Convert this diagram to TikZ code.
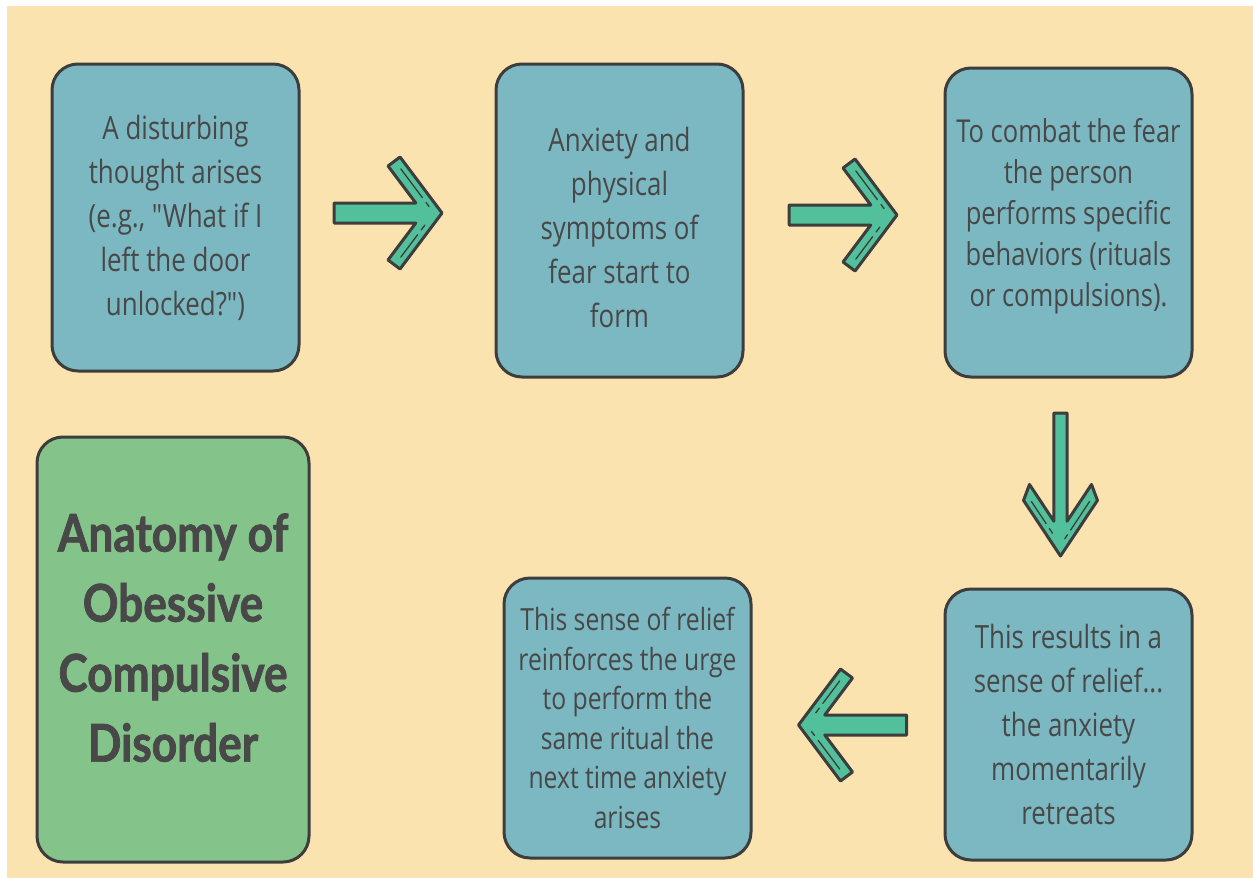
\documentclass[tikz,border=0pt]{standalone}
\usepackage{fontspec}
\newfontfamily\bodyfont[FakeStretch=0.81]{Open Sans}
\newfontfamily\titlefont[FakeStretch=0.85,FakeBold=1.4]{Lato}
\usetikzlibrary{calc}

\definecolor{paper}{HTML}{FBE3B0}
\definecolor{stepfill}{HTML}{7BB8C2}
\definecolor{titlefill}{HTML}{84C48A}
\definecolor{arrowfill}{HTML}{52C09A}
\definecolor{outline}{HTML}{3D3D3D}
\definecolor{ink}{HTML}{484848}

\tikzset{
  stepbox/.style={draw=outline, line width=3pt, fill=stepfill,
    rounded corners=26pt, minimum width=247pt, inner sep=0pt,
    align=center, text=ink, font=\bodyfont\fontsize{32}{44}\selectfont},
  titlebox/.style={draw=outline, line width=3pt, fill=titlefill,
    rounded corners=26pt, minimum width=272pt, minimum height=425pt,
    inner sep=0pt, align=center, text=ink,
    font=\titlefont\bfseries\fontsize{52}{70}\selectfont},
  arrowbody/.style={draw=outline, line width=3pt, fill=arrowfill, line join=round},
  arrowdeco/.style={draw=outline, line width=1.3pt, line cap=round},
  blockarrow/.pic={
    % shaft and chevron head, pointing along +x, centred on the origin
    \draw[arrowbody] (-54,-10) -- (27.75,-10) -- (0,-47) -- (12,-56)
      -- (54,0) -- (12,56) -- (0,47) -- (27.75,10) -- (-54,10) -- cycle;
    % hand-drawn highlight strokes inside the two arms
    \draw[arrowdeco] (12.8,-44.1) -- (34.4,-15.3);
    \draw[arrowdeco] (38,-10.5) -- (41,-6.5);
    \draw[arrowdeco] (12.8,44.1) -- (29.6,21.7);
    \draw[arrowdeco] (33.2,16.9) -- (36.8,12.1);
  }
}

\begin{document}
\begin{tikzpicture}[x=1pt,y=-1pt]
  % page and coloured backdrop
  \fill[white] (0,0) rectangle (1253,878);
  \fill[paper] (7,6) rectangle (1253,878);
  \useasboundingbox (0,0) rectangle (1253,878);

  % process steps
  \node[stepbox, minimum height=307pt] (b1) at (175.5,217.5)
    {A disturbing\\thought arises\\(e.g., "What if I\\left the door\\unlocked?")};
  \node[stepbox, minimum height=313pt, text height=214pt] (b2) at (619.5,220.5)
    {Anxiety and\\physical\\symptoms of\\fear start to\\form};
  \node[stepbox, minimum height=309pt, text depth=20pt,
        font=\bodyfont\fontsize{31.5}{41}\selectfont] (b3) at (1068.5,222.5)
    {To combat the fear\\the person\\performs specific\\behaviors (rituals\\or compulsions).};
  \node[stepbox, minimum height=271pt] (b4) at (1068.5,724.5)
    {This results in a\\sense of relief...\\the anxiety\\momentarily\\retreats};
  \node[stepbox, minimum height=280pt,
        font=\bodyfont\fontsize{30.5}{39.6}\selectfont] (b5) at (627.5,718)
    {This sense of relief\\reinforces the urge\\to perform the\\same ritual the\\next time anxiety\\arises};

  % title card
  \node[titlebox, text depth=24pt] (title) at (173,649.5)
    {Anatomy of\\Obessive\\Compulsive\\Disorder};

  % block arrows between the steps
  \pic (a1) at (388,213) {blockarrow};
  \pic (a2) at (843,215) {blockarrow};
  \pic[rotate=-90, xscale=1.324, yscale=0.66] (a3) at (1060.5,484.5) {blockarrow};
  \pic[rotate=180] (a4) at (852.5,725) {blockarrow};
\end{tikzpicture}
\end{document}
